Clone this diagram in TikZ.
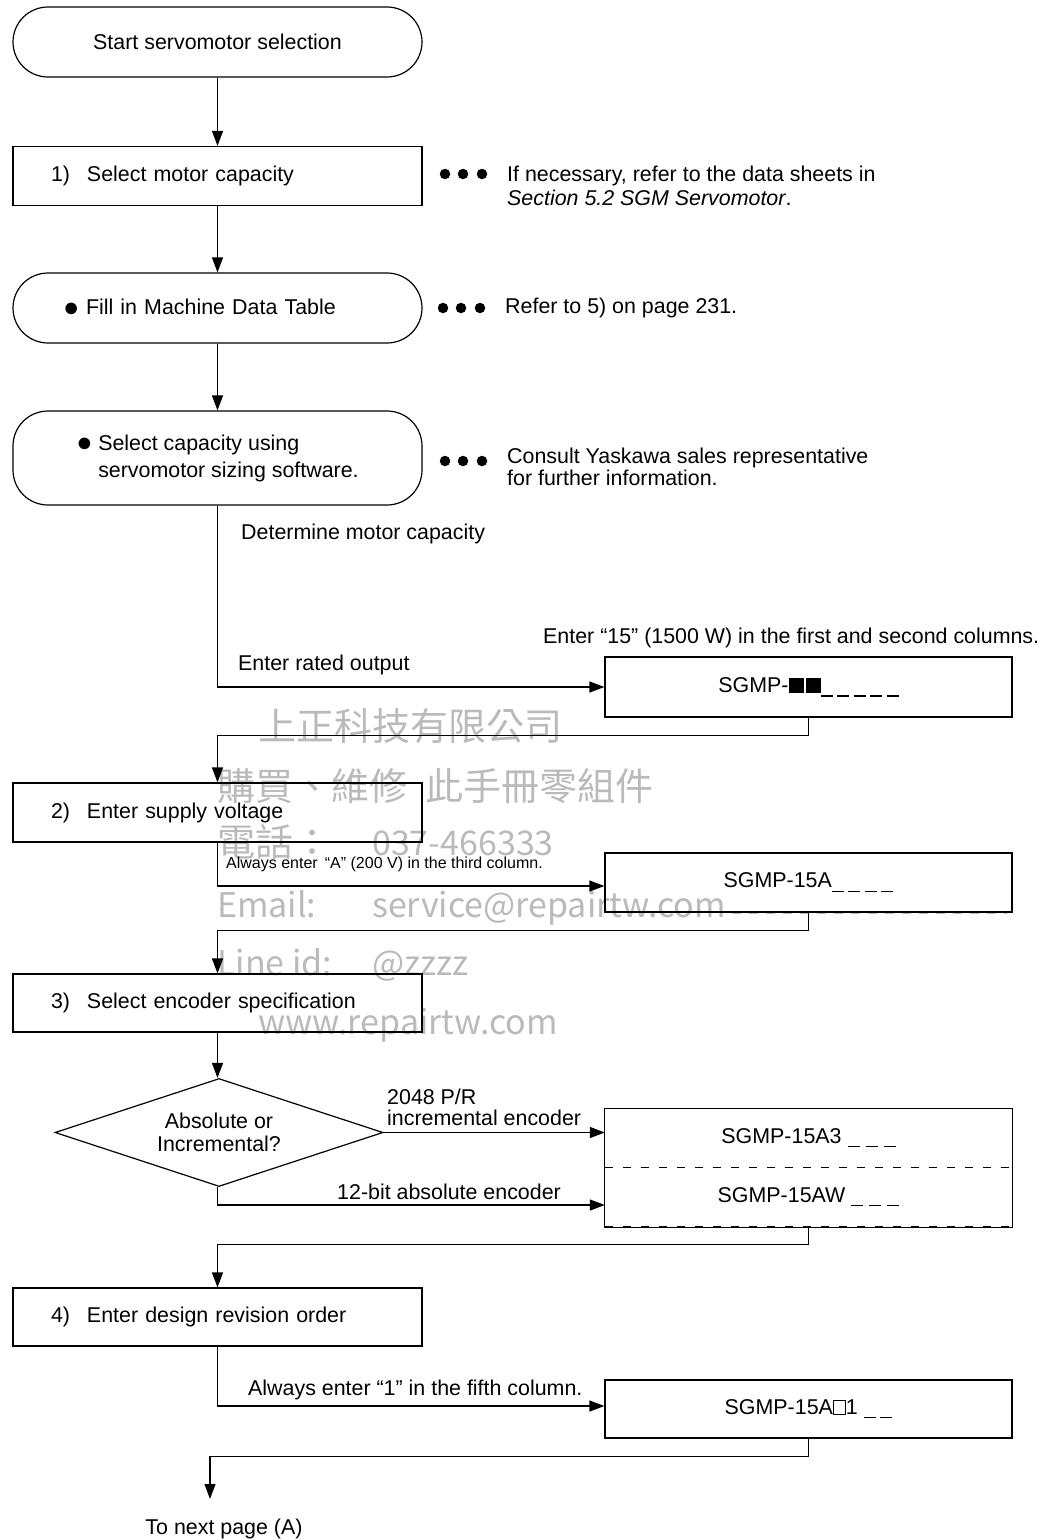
\documentclass[tikz,border=0pt]{standalone}
\usepackage{fontspec}
\setmainfont{Liberation Sans}
\newfontfamily\cjkwm{Noto Sans CJK TC}
\usetikzlibrary{arrows.meta,shapes.geometric}
\definecolor{wm}{RGB}{186,186,186}
\newcommand\usc{\rule[-4pt]{12pt}{1.4pt}}
\newcommand\blk{\rule{15pt}{15pt}}
\newcommand\wbox{{\setlength\fboxsep{0pt}\setlength\fboxrule{1pt}\fbox{\rule{0pt}{13.5pt}\hspace{11pt}}}}
\newcommand\bigdot{\raisebox{-1.8pt}{\fontsize{27}{27}\selectfont●}}
\newcommand\wmlat{\fontsize{34}{36}\selectfont}
\begin{document}
\begin{tikzpicture}[x=1pt,y=-1pt,
  every node/.style={font=\fontsize{21.4}{23}\selectfont},
  arr/.style={line width=1.2pt,-{Triangle[length=15pt,width=11pt]}},
  term/.style={draw,line width=1.2pt,rounded corners=35pt,minimum width=409pt,inner sep=0pt},
  proc/.style={draw,line width=1.2pt,minimum width=409pt,inner sep=0pt,text width=333pt,align=left},
  code/.style={draw,line width=1.2pt,minimum width=407pt,inner sep=0pt},
  note/.style={anchor=base west,inner sep=0pt},
  leader/.style={circle,fill,inner sep=0pt,minimum size=10.5pt},
  small/.style={anchor=base west,inner sep=0pt,font=\fontsize{16}{18}\selectfont},
  wmtext/.style={anchor=base west,inner sep=0pt,text=wm,font=\cjkwm\fontsize{38}{40}\selectfont}]
\useasboundingbox (0,0) rectangle (1054,1540);

% watermark (behind)
\node[wmtext] (w1) at (258,740) {上正科技有限公司};
\node[wmtext] (w2) at (217,800) {購買、維修\hspace{18pt}此手冊零組件};
\node[wmtext] (w3a) at (217,856) {電話：};
\node[wmtext] (w3b) at (372,855) {\wmlat 037-466333};
\node[wmtext] (w4a) at (217,917) {\wmlat Email:};
\node[wmtext] (w4b) at (372,917) {\wmlat service@repairtw.com};
\node[wmtext] (w5a) at (217,975) {\wmlat Line id:};
\node[wmtext] (w5b) at (372,975) {\wmlat @zzzz};
\node[wmtext] (w6) at (258,1034) {\wmlat www.repairtw.com};

% main column
\node[term,minimum height=70pt] (start) at (217.5,42) {Start servomotor selection};
\node[proc,minimum height=59pt] (s1) at (217.5,176) {\makebox[36pt][l]{1)}Select motor capacity};
\node[term,minimum height=70pt,text width=309pt,align=left] (fill) at (217.5,308) {\makebox[23pt][l]{\bigdot}Fill in Machine Data Table};
\node[term,minimum height=94pt,align=left] (size) at (217.5,458) {\makebox[22pt][l]{\bigdot}Select capacity using\\[4pt]\hspace*{22pt}servomotor sizing software.};
\node[proc,minimum height=59pt] (s2) at (217.5,812.5) {\makebox[36pt][l]{2)}Enter supply voltage};
\node[proc,minimum height=58pt] (s3) at (217.5,1003) {\makebox[36pt][l]{3)}Select encoder specification};
\node[diamond,draw,line width=1.2pt,minimum width=328pt,minimum height=108pt,inner sep=0pt,aspect=3,align=center] (dec) at (219,1132.5) {Absolute or\\Incremental?};
\node[proc,minimum height=58pt] (s4) at (217.5,1317) {\makebox[36pt][l]{4)}Enter design revision order};

% code boxes
\node[code,minimum height=60pt] (c1) at (808.5,687) {SGMP-\blk\hspace{2pt}\blk\usc\hspace{4.5pt}\usc\hspace{4.5pt}\usc\hspace{4.5pt}\usc\hspace{4.5pt}\usc};
\node[code,minimum height=59pt] (c2) at (808.5,882.5) {SGMP-15A\usc\hspace{4.5pt}\usc\hspace{4.5pt}\usc\hspace{4.5pt}\usc};
\node[minimum width=407pt,minimum height=58pt,inner sep=0pt] (e1) at (808.5,1138) {SGMP-15A3 \usc\hspace{6pt}\usc\hspace{6pt}\usc};
\node[minimum width=407pt,minimum height=60pt,inner sep=0pt] (e2) at (808.5,1197) {SGMP-15AW \usc\hspace{6pt}\usc\hspace{6pt}\usc};
\draw[line width=1.2pt] (e1.north west) rectangle (e2.south east);
\draw[line width=1.2pt,dash pattern=on 8pt off 10pt] (e1.south west) -- (e1.south east);
\draw[line width=2.2pt,dash pattern=on 8pt off 10pt] (e2.south west) -- (e2.south east);
\node[code,minimum height=58pt] (c4) at (808.5,1409) {SGMP-15A\wbox1 \usc\hspace{4.5pt}\usc};
\draw[wm,line width=1.6pt,dash pattern=on 9pt off 8pt] ([xshift=128pt,yshift=-1pt]c2.south west) -- ([xshift=-6pt,yshift=-1pt]c2.south east);

% side notes
\node[leader] (d1a) at (445,174) {};
\node[leader] (d1b) at (463,174) {};
\node[leader] (d1c) at (482,174) {};
\node[note] (n1a) at (507,181.5) {If necessary, refer to the data sheets in};
\node[note] (n1b) at (507,205.5) {\textit{Section 5.2 SGM Servomotor}.};
\node[leader] (d2a) at (443,308) {};
\node[leader] (d2b) at (461,308) {};
\node[leader] (d2c) at (480,308) {};
\node[note] (n2) at (505,313) {Refer to 5) on page 231.};
\node[leader] (d3a) at (445,461) {};
\node[leader] (d3b) at (463,461) {};
\node[leader] (d3c) at (482,461) {};
\node[note] (n3a) at (507,463.5) {Consult Yaskawa sales representative};
\node[note] (n3b) at (507,485.5) {for further information.};

% connector labels
\node[note] (l1) at (241,539.5) {Determine motor capacity};
\node[note] (l2) at (543,643) {Enter “15” (1500 W) in the first and second columns.};
\node[note] (l3) at (238,670) {Enter rated output};
\node[small] (l4) at (226,868) {Always enter \,“A” (200 V) in the third column.};
\node[note] (l5a) at (387,1104.5) {2048 P/R};
\node[note] (l5b) at (387,1125.5) {incremental encoder};
\node[note] (l6) at (337,1199) {12-bit absolute encoder};
\node[note] (l7) at (248,1395) {Always enter “1” in the fifth column.};

% connectors
\draw[arr] (start.south) -- (s1.north);
\draw[arr] (s1.south) -- (fill.north);
\draw[arr] (fill.south) -- (size.north);
\draw[arr] (size.south) |- (c1.west);
\draw[arr] (c1.south) -- ++(0,18) -| (s2.north);
\draw[arr] (s2.south) |- ([yshift=-3.5pt]c2.west);
\draw[arr] (c2.south) -- ++(0,18) -| (s3.north);
\draw[arr] (s3.south) -- (s3.south |- dec.north);
\draw[arr] (dec.east) -- (dec.east -| e1.west);
\draw[arr] (s3.south |- dec.south) |- ([yshift=-8pt]e2.west);
\draw[arr] (e2.south) -- ++(0,17) -| (s4.north);
\draw[arr] (s4.south) |- ([yshift=3pt]c4.west);
\coordinate (nx) at (210,1499);
\draw[arr] (c4.south) -- ++(0,18) -| (nx);
\node (nxt) at (224,1529) {To next page (A)};
\end{tikzpicture}
\end{document}
